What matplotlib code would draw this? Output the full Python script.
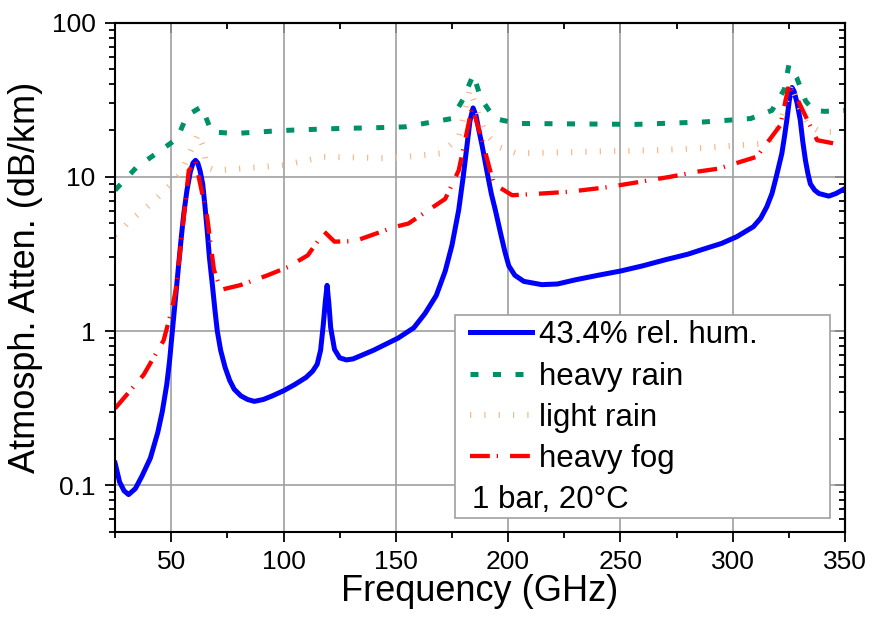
import matplotlib
matplotlib.use("Agg")
import matplotlib.pyplot as plt
from matplotlib.patches import Rectangle
from matplotlib.ticker import MultipleLocator, LogLocator, NullFormatter

plt.rcParams['font.family'] = ['Liberation Sans', 'DejaVu Sans']

# 43.4 % relative humidity (GHz, dB/km)
hum_f = [25, 27, 29, 31, 34, 37, 40.7, 44, 46, 48, 49.3, 50.4, 52, 53.3, 54.5,
         55.6, 57, 58.5, 59.7, 60.8, 61.8, 62.8, 64, 65, 66, 67, 68.3, 69.5,
         70.5, 72, 74, 76, 78, 81, 84, 87, 91, 95, 100, 105, 110, 113, 115,
         116.5, 117.7, 118.6, 119.4, 120.2, 121, 122.7, 125, 128, 131, 140, 151,
         158, 163, 168, 172, 175, 178, 180, 181.7, 183, 184.4, 185.7, 187, 188.4,
         190.5, 192.5, 194.3, 196.5, 198.5, 200.3, 203, 207, 215, 222, 230, 240,
         250, 260, 270, 280, 287, 295, 301.8, 309.2, 312.5, 315.2, 317.5, 319.4,
         321.9, 323, 324.1, 325.3, 326.4, 327.3, 328.7, 330.1, 331.2, 332.4,
         333.5, 334.6, 336.5, 338.4, 342.8, 346, 350]
hum_a = [0.139, 0.105, 0.092, 0.087, 0.095, 0.115, 0.15, 0.22, 0.3, 0.45, 0.65,
         0.97, 1.7, 2.7, 4.1, 5.8, 8.2, 10.8, 12.3, 12.8, 12.3, 11.0, 9.0, 6.5,
         4.5, 3.0, 2.0, 1.35, 1.0, 0.75, 0.58, 0.48, 0.42, 0.38, 0.36, 0.35,
         0.36, 0.38, 0.41, 0.45, 0.5, 0.55, 0.61, 0.75, 1.1, 1.55, 1.98, 1.5,
         1.05, 0.76, 0.67, 0.65, 0.66, 0.75, 0.9, 1.05, 1.3, 1.7, 2.45, 3.6,
         6.1, 10.0, 16.0, 23.0, 28.0, 25.0, 20.0, 16.0, 11.0, 7.8, 6.1, 4.4,
         3.3, 2.65, 2.3, 2.1, 2.0, 2.02, 2.15, 2.3, 2.45, 2.65, 2.9, 3.15, 3.4,
         3.7, 4.09, 4.75, 5.4, 6.4, 7.8, 10.0, 14.2, 18.0, 23.3, 32.0, 38.0,
         36.0, 30.0, 23.3, 17.0, 12.8, 10.5, 9.0, 8.2, 7.8, 7.5, 7.8, 8.4]

# heavy rain
hrain_f = [25, 34.7, 43.7, 52.6, 57, 63.5, 68, 78, 100, 125, 145, 154, 175, 180,
           184.5, 188, 194, 204, 257, 287, 298, 308, 317.5, 323, 325, 328.5,
           332.5, 336, 341, 350]
hrain_a = [8.2, 11.6, 14.3, 17.7, 25.0, 28.5, 19.6, 19.1, 20.0, 20.6, 20.9, 21.1,
           23.9, 32.0, 46.0, 32.0, 23.9, 22.2, 21.9, 22.7, 23.3, 23.9, 27.0, 37.0,
           53.0, 44.0, 31.0, 27.0, 26.6, 27.0]

# light rain
lrain_f = [25, 27, 31, 42, 50, 54, 58, 62, 64, 66, 70, 100, 118, 148, 170, 178,
           183, 187, 190, 196, 204, 266, 284, 302, 316, 321, 326, 329, 333, 339,
           350]
lrain_a = [4.2, 4.4, 5.1, 6.9, 9.0, 10.5, 14.0, 19.0, 16.0, 11.5, 11.0, 11.9,
           13.5, 13.2, 14.2, 18.0, 37.0, 25.0, 19.0, 15.6, 14.2, 14.9, 15.3, 16.0,
           16.5, 22.0, 40.0, 30.0, 22.0, 19.6, 19.6]

# heavy fog
fog_f = [25, 37.7, 46.6, 50.4, 52, 54, 57.8, 60.8, 66, 69, 72, 81, 92.9, 101.9,
         110.8, 118.2, 122.7, 131.7, 149.6, 155.6, 172, 178, 184, 188.4, 193.6,
         201.8, 215, 227, 245, 272, 284, 293.6, 310.7, 321.2, 325, 329.4, 337.6,
         345.8]
fog_a = [0.315, 0.52, 0.87, 1.4, 1.85, 3.35, 11.0, 12.5, 5.5, 2.5, 1.85, 1.99,
         2.3, 2.6, 3.1, 4.4, 3.8, 3.83, 4.74, 4.98, 7.2, 11.0, 28.5, 17.3, 9.0,
         7.6, 7.8, 8.0, 8.6, 10.0, 10.8, 11.3, 13.5, 21.6, 39.4, 30.6, 17.3, 16.4]

labels = ['43.4% rel. hum.', 'heavy rain', 'light rain', 'heavy fog']
note = '1 bar, 20°C'

fig = plt.figure(figsize=(8.72, 6.23), dpi=100)
ax = fig.add_axes([0.132, 0.1466, 0.837, 0.817])

l_hum, = ax.plot(hum_f, hum_a, color='#0000ff', lw=3.6, solid_joinstyle='round')
l_lr, = ax.plot(lrain_f, lrain_a, color='#f2b98a', lw=4.3, linestyle=(0, (0.2, 2.2)))
l_hr, = ax.plot(hrain_f, hrain_a, color='#009068', lw=3.6, linestyle=(0, (1.6, 2.9)))
l_fog, = ax.plot(fog_f, fog_a, color='#ff0000', lw=3.1, linestyle=(0, (4.6, 1.6, 0.3, 2.8)))

ax.set_yscale('log')
ax.set_xlim(25, 350)
ax.set_ylim(0.05, 100)

ax.xaxis.set_major_locator(MultipleLocator(50))
ax.xaxis.set_minor_locator(MultipleLocator(25))
ax.set_yticks([0.1, 1, 10, 100], labels=['0.1', '1', '10', '100'])
ax.yaxis.set_minor_locator(LogLocator(base=10, subs=range(2, 10)))
ax.yaxis.set_minor_formatter(NullFormatter())

ax.tick_params(which='both', direction='out', width=1.3, labelsize=19)
ax.tick_params(which='major', length=7)
ax.tick_params(which='minor', length=4)
ax.tick_params(axis='x', pad=6)
ax.tick_params(axis='y', pad=7)
for s in ax.spines.values():
    s.set_linewidth(1.5)

ax.grid(True, which='major', color='#a0a0a0', lw=1.2)

# mirrored ticks on top and right, pointing inwards
top = ax.secondary_xaxis('top')
top.xaxis.set_major_locator(MultipleLocator(50))
top.xaxis.set_minor_locator(MultipleLocator(25))
top.xaxis.set_major_formatter(NullFormatter())
top.tick_params(which='both', direction='in', width=1.3)
top.tick_params(which='major', length=7)
top.tick_params(which='minor', length=4)
top.spines['top'].set_linewidth(1.5)

right = ax.secondary_yaxis('right')
right.yaxis.set_major_locator(LogLocator(base=10))
right.yaxis.set_minor_locator(LogLocator(base=10, subs=range(2, 10)))
right.yaxis.set_major_formatter(NullFormatter())
right.yaxis.set_minor_formatter(NullFormatter())
right.tick_params(which='both', direction='in', width=1.3)
right.tick_params(which='major', length=7)
right.tick_params(which='minor', length=4)
right.spines['right'].set_linewidth(1.5)

ax.set_xlabel('Frequency (GHz)', fontsize=26, labelpad=0)
ax.set_ylabel('Atmosph. Atten. (dB/km)', fontsize=26, labelpad=6)

# legend box
ax.add_patch(Rectangle((0.466, 0.027), 0.513, 0.399, transform=ax.transAxes,
                       facecolor='white', edgecolor='#a0a0a0', lw=1.2, zorder=4))
leg = ax.legend([l_hum, l_hr, l_lr, l_fog], labels, loc='upper left',
                bbox_to_anchor=(0.486, 0.415), frameon=False, fontsize=22.5,
                handlelength=2.0, handletextpad=0.2, labelspacing=0.36,
                borderpad=0, borderaxespad=0)
leg.set_zorder(5)
ax.text(0.4886, 0.046, note, transform=ax.transAxes, fontsize=22.5,
        ha='left', va='baseline', zorder=6)

fig.savefig('out.png', dpi=100)
